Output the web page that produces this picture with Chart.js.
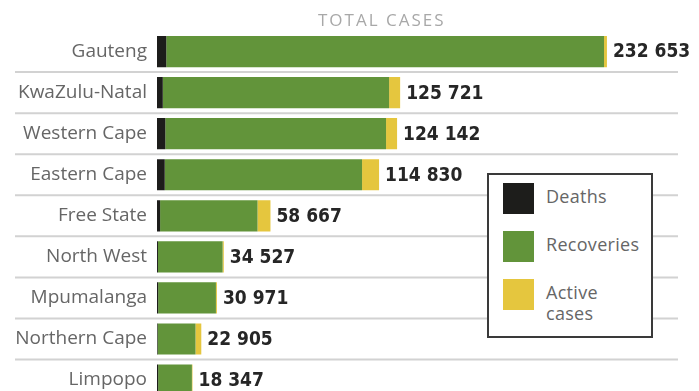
<!DOCTYPE html>
<html lang="en">
<head>
    <meta charset="UTF-8">
    <title>Total cases by province</title>
    <script src="https://cdn.jsdelivr.net/npm/chart.js"></script>
    <style>
        html, body { margin: 0; padding: 0; background: #fff; overflow: hidden; }
        #wrap { position: relative; width: 699px; height: 422px; }
        canvas { display: block; }
        #heading {
            position: absolute; left: 318px; top: 8px;
            font: 17px "Open Sans", sans-serif; letter-spacing: 2px; color: #a8a8a8;
        }
        #legend {
            position: absolute; left: 487px; top: 173px; width: 162px; height: 161px;
            border: 2px solid #3a3a3a; background: #fff; box-sizing: content-box;
        }
        .item { position: absolute; left: 14px; }
        .swatch { position: absolute; left: 0; top: 0; width: 31px; height: 31px; }
        .text {
            position: absolute; left: 43px; top: 3px; width: 80px;
            font: 18px "Open Sans", sans-serif; letter-spacing: 0.3px; line-height: 21px; color: #666;
        }
    </style>
</head>
<body>
<div id="wrap">
    <canvas id="chart" width="699" height="422"></canvas>
    <div id="heading">TOTAL CASES</div>
    <div id="legend"></div>
</div>
<script>
// data
const provinces = ["Gauteng", "KwaZulu-Natal", "Western Cape", "Eastern Cape", "Free State",
                   "North West", "Mpumalanga", "Northern Cape", "Limpopo"];
const totals     = [232653, 125721, 124142, 114830, 58667, 34527, 30971, 22905, 18347];
const deaths     = [4800, 3000, 4300, 4000, 1600, 500, 600, 300, 600];
const recoveries = [226353, 117021, 114142, 102030, 50367, 33427, 29871, 19605, 17447];
const active     = [1500, 5700, 5700, 8800, 6700, 600, 500, 3000, 300];

const BLACK = "#1d1d1b";
const GREEN = "#62943a";
const YELLOW = "#e5c63e";

function fmt(n) {
    return String(n).replace(/\B(?=(\d{3})+(?!\d))/g, " ");
}

// light row separators between provinces
const separators = {
    id: "separators",
    beforeDatasetsDraw(chart) {
        const y = chart.scales.y, ctx = chart.ctx;
        ctx.save();
        ctx.strokeStyle = "#d2d2d2";
        ctx.lineWidth = 2;
        for (let i = 0; i < provinces.length - 1; i++) {
            const py = (y.getPixelForValue(i) + y.getPixelForValue(i + 1)) / 2;
            ctx.beginPath();
            ctx.moveTo(15, py);
            ctx.lineTo(chart.chartArea.right, py);
            ctx.stroke();
        }
        ctx.restore();
    }
};

// total value at the end of each bar
const totalLabels = {
    id: "totalLabels",
    afterDatasetsDraw(chart) {
        const meta = chart.getDatasetMeta(chart.data.datasets.length - 1);
        const ctx = chart.ctx;
        ctx.save();
        ctx.font = "bold 19px 'DejaVu Sans Condensed', 'DejaVu Sans', sans-serif";
        ctx.fillStyle = "#262626";
        ctx.textBaseline = "middle";
        ctx.textAlign = "left";
        meta.data.forEach((bar, i) => {
            ctx.fillText(fmt(totals[i]), bar.x + 6, bar.y + 1);
        });
        ctx.restore();
    }
};

const chart = new Chart(document.getElementById("chart"), {
    type: "bar",
    data: {
        labels: provinces,
        datasets: [
            { label: "Deaths", data: deaths, backgroundColor: BLACK },
            { label: "Recoveries", data: recoveries, backgroundColor: GREEN },
            { label: "Active cases", data: active, backgroundColor: YELLOW }
        ]
    },
    options: {
        indexAxis: "y",
        responsive: false,
        animation: false,
        layout: { padding: { top: 31, bottom: 1, left: 0, right: 21 } },
        datasets: { bar: { categoryPercentage: 1, barPercentage: 0.76 } },
        scales: {
            x: { stacked: true, display: false, min: 0, max: 269400 },
            y: {
                stacked: true,
                grid: { display: false, drawTicks: false },
                border: { display: false },
                ticks: {
                    padding: 10,
                    color: "#666",
                    font: { family: "'Open Sans', sans-serif", size: 19 }
                },
                afterFit(scale) { scale.width = 157; }
            }
        },
        plugins: {
            legend: { display: false },
            tooltip: { enabled: false }
        }
    },
    plugins: [separators, totalLabels]
});

// legend box built from the datasets
const legendBox = document.getElementById("legend");
chart.data.datasets.forEach((ds, i) => {
    const item = document.createElement("div");
    item.className = "item";
    item.style.top = (8 + i * 48) + "px";
    item.innerHTML = '<div class="swatch" style="background:' + ds.backgroundColor + '"></div>' +
                     '<div class="text">' + ds.label + '</div>';
    legendBox.appendChild(item);
});
</script>
</body>
</html>
